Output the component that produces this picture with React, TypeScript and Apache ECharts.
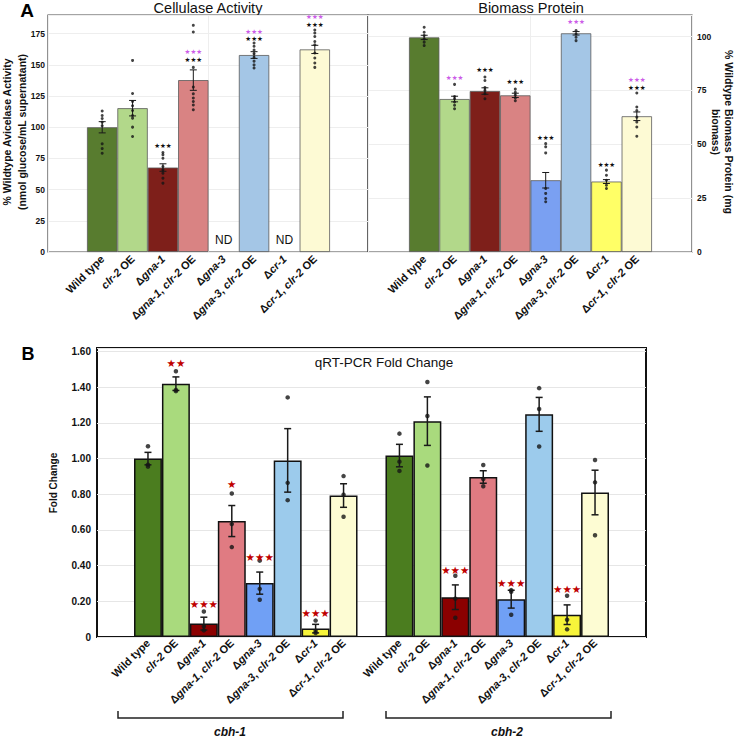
import React, { useEffect, useRef } from "react";
import * as echarts from "echarts";

const FONT = "Arial, 'Liberation Sans', Helvetica, sans-serif";
const STAR_FONT = "'DejaVu Sans', sans-serif";

// Strains shared by every panel
const genotypes = [
  "Wild type",
  "clr-2 OE",
  "Δgna-1",
  "Δgna-1, clr-2 OE",
  "Δgna-3",
  "Δgna-3, clr-2 OE",
  "Δcr-1",
  "Δcr-1, clr-2 OE",
];

// Panel A – cellulase activity (% of wild type); null = not detected
const cellulaseMean = [100, 115.3, 67.7, 137.8, null, 157.9, null, 162.4];
const cellulaseSem = [4.5, 6.2, 3.0, 8.2, 0, 2.7, 0, 3.3];
const cellulaseReps = [
  [113, 109.4, 107, 104.1, 101.2, 86.7, 82.9, 79.2],
  [153.6, 127.1, 120.7, 117.2, 113.4, 109.4, 107.3, 100.1, 92.6],
  [79.7, 77.9, 75.2, 68.5, 65.8, 63.2, 59.2, 55.2],
  [181.7, 176.4, 148, 132.2, 126.8, 123.4, 120.7, 117.8, 114],
  [],
  [167.5, 165, 162, 159, 156, 153, 150, 147.5],
  [],
  [178, 175.6, 172.8, 168.8, 166.2, 159.5, 155.5, 151.5, 148],
];
// vs: "wt" = compared with wild type, "oe" = compared with clr-2 OE
const cellulaseStars = [
  { i: 2, at: 85, text: "★★★", vs: "wt" },
  { i: 3, at: 154, text: "★★★", vs: "wt" },
  { i: 3, at: 160, text: "★★★", vs: "oe" },
  { i: 5, at: 170.7, text: "★★★", vs: "wt" },
  { i: 5, at: 176.4, text: "★★★", vs: "oe" },
  { i: 7, at: 182, text: "★★★", vs: "wt" },
  { i: 7, at: 188, text: "★★★", vs: "oe" },
];

// Panel A – biomass protein (% of wild type)
const biomassMean = [99.6, 71, 74.7, 72.7, 33.3, 101.5, 32.7, 63];
const biomassSem = [1.0, 1.3, 1.5, 1.0, 3.6, 0.8, 0.9, 2.0];
const biomassReps = [
  [104.3, 102, 100.5, 98.9, 97.4, 95.8],
  [77.8, 72.2, 71.1, 69.6, 68.1, 66.5],
  [81.2, 79.6, 76.3, 75, 73.5, 71.1],
  [75.6, 74.1, 72.8, 71.5, 70.2],
  [50.3, 48.8, 46, 29.5, 27.2, 24.8, 23.3],
  [102.8, 101.2, 99.7, 98.1],
  [38, 35.6, 33.3, 31, 29.5],
  [73.8, 67.3, 65.7, 62.6, 60.3, 58, 53.7],
];
const biomassStars = [
  { i: 1, at: 80.7, text: "★★★", vs: "oe" },
  { i: 2, at: 84.4, text: "★★★", vs: "wt" },
  { i: 3, at: 79, text: "★★★", vs: "wt" },
  { i: 4, at: 52.9, text: "★★★", vs: "wt" },
  { i: 5, at: 106.8, text: "★★★", vs: "oe" },
  { i: 6, at: 40.4, text: "★★★", vs: "wt" },
  { i: 7, at: 76, text: "★★★", vs: "wt" },
  { i: 7, at: 79.6, text: "★★★", vs: "oe" },
];

// Panel B – qRT-PCR fold change
const cbh1Mean = [1.0, 1.42, 0.075, 0.65, 0.302, 0.99, 0.047, 0.793];
const cbh1Sem = [0.035, 0.038, 0.036, 0.087, 0.062, 0.178, 0.024, 0.066];
const cbh1Reps = [
  [1.069, 0.966, 0.955],
  [1.49, 1.385, 1.378],
  [0.143, 0.06, 0.037],
  [0.804, 0.633, 0.504],
  [0.428, 0.27, 0.209],
  [1.343, 0.864, 0.767],
  [0.092, 0.034, 0.022],
  [0.902, 0.798, 0.674],
];
const cbh1Stars = [
  { i: 1, at: 1.536, text: "★★" },
  { i: 2, at: 0.186, text: "★★★" },
  { i: 3, at: 0.86, text: "★" },
  { i: 4, at: 0.447, text: "★★★" },
  { i: 6, at: 0.134, text: "★★★" },
];

const cbh2Mean = [1.017, 1.21, 0.223, 0.897, 0.212, 1.248, 0.125, 0.81];
const cbh2Sem = [0.063, 0.136, 0.069, 0.035, 0.05, 0.095, 0.055, 0.125];
const cbh2Reps = [
  [1.14, 0.983, 0.931],
  [1.429, 1.239, 0.961],
  [0.343, 0.215, 0.108],
  [0.964, 0.886, 0.845],
  [0.263, 0.254, 0.125],
  [1.395, 1.278, 1.068],
  [0.231, 0.097, 0.043],
  [0.992, 0.867, 0.57],
];
const cbh2Stars = [
  { i: 2, at: 0.378, text: "★★★" },
  { i: 4, at: 0.304, text: "★★★" },
  { i: 6, at: 0.268, text: "★★★" },
];

const yTicksA = { cellulaseMax: 190, biomassMax: 110, step: 25 };
const yTicksB = { max: 1.62, step: 0.2 };

const colorsA = ["#587c2f", "#b2d88a", "#7e1f1a", "#d98383", "#7aa0f2", "#a4c6e6", "#ffff66", "#fdfad4"];
const colorsB = ["#4b7d1f", "#a9da7d", "#8b0000", "#e07b82", "#70a0f5", "#9ccbec", "#f7f43a", "#fdfcd3"];
const STAR_WT = "#111111";
const STAR_OE = "#cc5de8";
const STAR_RED = "#c00000";

const italicize = (s: string) => s.replace(/(gna-\d|cr-1|clr-2)/g, "{i|$1}");

const categoryLabel = {
  interval: 0,
  rotate: 45,
  margin: 5,
  fontSize: 11,
  fontWeight: "bold",
  fontFamily: FONT,
  color: "#111",
  formatter: italicize,
  rich: {
    i: { fontStyle: "italic", fontWeight: "bold", fontSize: 11, fontFamily: FONT, color: "#111" },
  },
};

function errorRows(means: (number | null)[], sems: number[]) {
  const rows: number[][] = [];
  means.forEach((m, i) => {
    if (m != null && sems[i] > 0) rows.push([i, m - sems[i], m + sems[i]]);
  });
  return rows;
}

function makeErrorBars(axis: number, rows: number[][], half: number, lw: number) {
  return {
    type: "custom",
    xAxisIndex: axis,
    yAxisIndex: axis,
    z: 4,
    data: rows,
    renderItem: (_p: any, api: any) => {
      const lo = api.coord([api.value(0), api.value(1)]);
      const hi = api.coord([api.value(0), api.value(2)]);
      const style = { stroke: "#1a1a1a", lineWidth: lw };
      return {
        type: "group",
        children: [
          { type: "line", shape: { x1: lo[0], y1: lo[1], x2: hi[0], y2: hi[1] }, style },
          { type: "line", shape: { x1: lo[0] - half, y1: lo[1], x2: lo[0] + half, y2: lo[1] }, style },
          { type: "line", shape: { x1: hi[0] - half, y1: hi[1], x2: hi[0] + half, y2: hi[1] }, style },
        ],
      };
    },
  };
}

function makeDots(axis: number, reps: number[][], size: number) {
  const data: number[][] = [];
  reps.forEach((vals, i) => vals.forEach((v) => data.push([i, v])));
  return {
    type: "scatter",
    xAxisIndex: axis,
    yAxisIndex: axis,
    z: 5,
    symbol: "circle",
    symbolSize: size,
    itemStyle: { color: "#151515" },
    data,
  };
}

// Significance marks written as text above the bars
function makeStars(
  axis: number,
  list: { i: number; at: number; text: string; vs?: string }[],
  fontSize: number,
  colorOf: (s: { vs?: string }) => string,
) {
  return {
    type: "custom",
    xAxisIndex: axis,
    yAxisIndex: axis,
    z: 6,
    data: list.map((s) => [s.i, s.at]),
    renderItem: (p: any, api: any) => {
      const s = list[p.dataIndex];
      const pt = api.coord([api.value(0), api.value(1)]);
      return {
        type: "text",
        x: pt[0],
        y: pt[1],
        style: {
          text: s.text,
          fill: colorOf(s),
          font: `${fontSize}px ${STAR_FONT}`,
          align: "center",
          verticalAlign: "middle",
        },
      };
    },
  };
}

function frameX(grid: number, max: number, lines: boolean) {
  return {
    type: "value",
    gridIndex: grid,
    min: 0,
    max,
    interval: 1,
    axisLine: { show: false },
    axisTick: { show: false },
    axisLabel: { show: false },
    splitLine: { show: lines, lineStyle: { color: "#eeeeee", width: 1 } },
  };
}

export default function App() {
  const ref = useRef<HTMLDivElement>(null);

  useEffect(() => {
    if (!ref.current) return;
    const chart = echarts.init(ref.current, null, { renderer: "svg" });

    const qpcrCats = [...genotypes, "", ...genotypes];
    const qpcrMeans = [...cbh1Mean, null, ...cbh2Mean];
    const qpcrSems = [...cbh1Sem, 0, ...cbh2Sem];
    const qpcrReps = [...cbh1Reps, [], ...cbh2Reps];
    const qpcrStars = [
      ...cbh1Stars,
      ...cbh2Stars.map((s) => ({ ...s, i: s.i + genotypes.length + 1 })),
    ];

    const tickA = { margin: 3, fontSize: 8.5, fontWeight: "bold", color: "#111", fontFamily: FONT, showMaxLabel: false };
    const centered = { fill: "#111", align: "center", verticalAlign: "middle" };
    const starColorA = (s: { vs?: string }) => (s.vs === "oe" ? STAR_OE : STAR_WT);

    const option: any = {
      animation: false,
      backgroundColor: "#ffffff",
      textStyle: { fontFamily: FONT },
      grid: [
        { left: 48, top: 15, width: 320, height: 237, show: true, borderColor: "#4a4a4a", borderWidth: 1.2, backgroundColor: "transparent" },
        { left: 87, top: 15, width: 243, height: 237 },
        { left: 368, top: 15, width: 324, height: 237, show: true, borderColor: "#4a4a4a", borderWidth: 1.2, backgroundColor: "transparent" },
        { left: 409, top: 15, width: 243, height: 237 },
        { left: 97, top: 348, width: 549, height: 289, show: true, borderColor: "#111111", borderWidth: 2, backgroundColor: "transparent" },
        { left: 134, top: 348, width: 475, height: 289 },
      ],
      xAxis: [
        frameX(0, 2, true),
        { type: "category", gridIndex: 1, data: genotypes, axisLine: { show: false }, axisTick: { show: false }, axisLabel: categoryLabel },
        frameX(2, 2, true),
        { type: "category", gridIndex: 3, data: genotypes, axisLine: { show: false }, axisTick: { show: false }, axisLabel: categoryLabel },
        frameX(4, 1, false),
        { type: "category", gridIndex: 5, data: qpcrCats, axisLine: { show: false }, axisTick: { show: false }, axisLabel: { ...categoryLabel, margin: 4 } },
      ],
      yAxis: [
        {
          type: "value", gridIndex: 0, min: 0, max: yTicksA.cellulaseMax, interval: yTicksA.step,
          axisLine: { show: false }, axisTick: { show: false }, axisLabel: tickA,
          splitLine: { lineStyle: { color: "#eeeeee" } },
        },
        { type: "value", gridIndex: 1, min: 0, max: yTicksA.cellulaseMax, show: false },
        {
          type: "value", gridIndex: 2, position: "right", min: 0, max: yTicksA.biomassMax, interval: yTicksA.step,
          axisLine: { show: false }, axisTick: { show: false }, axisLabel: { ...tickA, margin: 5 },
          splitLine: { lineStyle: { color: "#eeeeee" } },
        },
        { type: "value", gridIndex: 3, min: 0, max: yTicksA.biomassMax, show: false },
        {
          type: "value", gridIndex: 4, min: 0, max: yTicksB.max, interval: yTicksB.step,
          axisLine: { show: false }, axisTick: { show: false },
          axisLabel: {
            showMaxLabel: false, margin: 6, fontSize: 10, fontWeight: "bold", color: "#111", fontFamily: FONT,
            formatter: (v: number) => (v === 0 ? "0" : v.toFixed(2)),
          },
          splitLine: { lineStyle: { color: "#e6e6e6", width: 1.2 } },
        },
        { type: "value", gridIndex: 5, min: 0, max: yTicksB.max, show: false },
      ],
      series: [
        // Cellulase activity
        {
          type: "bar", xAxisIndex: 1, yAxisIndex: 1, barWidth: "100%", z: 3,
          itemStyle: { borderColor: "#5a5a5a", borderWidth: 0.8 },
          data: cellulaseMean.map((v, i) => (v == null ? "-" : { value: v, itemStyle: { color: colorsA[i] } })),
        },
        makeErrorBars(1, errorRows(cellulaseMean, cellulaseSem), 3.5, 1),
        makeDots(1, cellulaseReps, 3),
        makeStars(1, cellulaseStars, 6.5, starColorA),
        {
          type: "custom", xAxisIndex: 1, yAxisIndex: 1, z: 6,
          data: cellulaseMean.map((v, i) => (v == null ? [i, 0] : null)).filter(Boolean),
          renderItem: (_p: any, api: any) => {
            const pt = api.coord([api.value(0), 0]);
            return {
              type: "text", x: pt[0], y: pt[1] - 12,
              style: { text: "ND", font: `12px ${FONT}`, ...centered },
            };
          },
        },
        // Biomass protein
        {
          type: "bar", xAxisIndex: 3, yAxisIndex: 3, barWidth: "100%", z: 3,
          itemStyle: { borderColor: "#5a5a5a", borderWidth: 0.8 },
          data: biomassMean.map((v, i) => ({ value: v, itemStyle: { color: colorsA[i] } })),
        },
        makeErrorBars(3, errorRows(biomassMean, biomassSem), 3.5, 1),
        makeDots(3, biomassReps, 3),
        makeStars(3, biomassStars, 6.5, starColorA),
        // qRT-PCR
        {
          type: "bar", xAxisIndex: 5, yAxisIndex: 5, barWidth: "100%", z: 3,
          itemStyle: { borderColor: "#111111", borderWidth: 1.5 },
          data: qpcrMeans.map((v, i) =>
            v == null ? "-" : { value: v, itemStyle: { color: colorsB[i % (genotypes.length + 1)] } },
          ),
        },
        makeErrorBars(5, errorRows(qpcrMeans, qpcrSems), 3.5, 1.5),
        makeDots(5, qpcrReps, 4.5),
        makeStars(5, qpcrStars, 10.5, () => STAR_RED),
      ],
      graphic: [
        { type: "text", x: 27, y: 10, style: { text: "A", font: `bold 19px ${FONT}`, ...centered, fill: "#000" } },
        { type: "text", x: 28, y: 354, style: { text: "B", font: `bold 18px ${FONT}`, ...centered, fill: "#000" } },
        { type: "text", x: 208, y: 8, style: { text: "Cellulase Activity", font: `14.5px ${FONT}`, ...centered } },
        { type: "text", x: 531, y: 8, style: { text: "Biomass Protein", font: `14.5px ${FONT}`, ...centered } },
        { type: "text", x: 384, y: 362, style: { text: "qRT-PCR Fold Change", font: `13.5px ${FONT}`, ...centered } },
        {
          type: "text", x: 7, y: 132, rotation: Math.PI / 2,
          style: { text: "% Wildtype Avicelase Activity", font: `bold 10.5px ${FONT}`, ...centered },
        },
        {
          type: "text", x: 22, y: 132, rotation: Math.PI / 2,
          style: { text: "(nmol glucose/mL supernatant)", font: `bold 10.5px ${FONT}`, ...centered },
        },
        {
          type: "text", x: 729, y: 132, rotation: -Math.PI / 2,
          style: { text: "% Wildtype Biomass Protein (mg", font: `bold 10.5px ${FONT}`, ...centered },
        },
        {
          type: "text", x: 716, y: 132, rotation: -Math.PI / 2,
          style: { text: "biomass)", font: `bold 10.5px ${FONT}`, ...centered },
        },
        {
          type: "text", x: 53, y: 483, rotation: Math.PI / 2,
          style: { text: "Fold Change", font: `bold 10px ${FONT}`, ...centered },
        },
        {
          type: "polyline",
          shape: { points: [[118, 711], [118, 718], [343, 718], [343, 711]] },
          style: { stroke: "#222", lineWidth: 1.5, fill: null },
        },
        {
          type: "polyline",
          shape: { points: [[386, 711], [386, 718], [611, 718], [611, 711]] },
          style: { stroke: "#222", lineWidth: 1.5, fill: null },
        },
        { type: "text", x: 230, y: 732, style: { text: "cbh-1", font: `italic bold 12px ${FONT}`, ...centered } },
        { type: "text", x: 507, y: 732, style: { text: "cbh-2", font: `italic bold 12px ${FONT}`, ...centered } },
      ],
    };

    chart.setOption(option);
    return () => chart.dispose();
  }, []);

  return (
    <div
      ref={ref}
      style={{ position: "absolute", left: 0, top: 0, width: 735, height: 738, background: "#fff" }}
    />
  );
}
